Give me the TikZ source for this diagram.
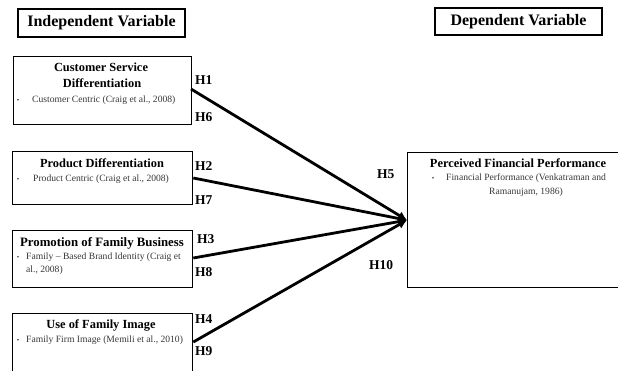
\documentclass[tikz,border=0pt]{standalone}
\usepackage{fontspec}
\setmainfont{Liberation Serif}
\usetikzlibrary{arrows.meta}
\begin{document}
\begin{tikzpicture}[x=1pt,y=-1pt,
  box/.style={draw,line width=1.3pt,inner sep=0pt},
  head/.style={box,font=\fontsize{16}{18}\selectfont\bfseries},
  ttl/.style={inner sep=0pt,anchor=base,font=\fontsize{12.4}{13}\selectfont\bfseries},
  bul/.style={inner sep=0pt,anchor=base west,text=black!78,font=\fontsize{9.6}{11}\selectfont},
  dot/.style={inner sep=0pt,anchor=base,text=black!78,font=\fontsize{7}{8}\selectfont},
  hyp/.style={inner sep=0pt,anchor=base west,font=\fontsize{13.5}{14}\selectfont\bfseries},
  conn/.style={line width=2.8pt,-{Latex[length=9pt,width=9pt]}}]
\clip (0,0) rectangle (618,370);
\fill[white] (0,0) rectangle (618,370);
% headings
\node[head,minimum width=167,minimum height=28] (iv) at (101.5,23) {Independent Variable};
\node[head,minimum width=167,minimum height=27] (dv) at (518.5,21.5) {Dependent Variable};
% boxes
\node[box,anchor=north west,minimum width=178,minimum height=68] (cs) at (13,56) {};
\node[box,anchor=north west,minimum width=180,minimum height=53] (pd) at (12,151) {};
\node[box,anchor=north west,minimum width=180,minimum height=57] (pr) at (12,230) {};
\node[box,anchor=north west,minimum width=180,minimum height=70] (uf) at (12,313) {};
\node[box,anchor=north west,minimum width=220,minimum height=135] (pf) at (407,152) {};
% customer service
\node[ttl] (cs1) at (101,71) {Customer Service};
\node[ttl] (cs2) at (102,87) {Differentiation};
\node[dot] (csb) at (18,102) {•};
\node[bul] (cst) at (32,102) {Customer Centric (Craig et al., 2008)};
% product
\node[ttl] (pd1) at (102,167) {Product Differentiation};
\node[dot] (pdb) at (18,181) {•};
\node[bul] (pdt) at (33,181) {Product Centric (Craig et al., 2008)};
% promotion
\node[ttl,font=\fontsize{12.8}{14}\selectfont\bfseries] (pr1) at (102,246) {Promotion of Family Business};
\node[dot] (prb) at (18,259) {•};
\node[bul] (prt) at (26,259) {Family – Based Brand Identity (Craig et};
\node[bul] (prt2) at (26,272) {al., 2008)};
% use of family image
\node[ttl] (uf1) at (101,328) {Use of Family Image};
\node[dot] (ufb) at (18,342) {•};
\node[bul] (uft) at (26,342) {Family Firm Image (Memili et al., 2010)};
% perceived
\node[ttl] (pf1) at (518,167) {Perceived Financial Performance};
\node[dot] (pfb) at (433,180) {•};
\node[bul] (pft) at (446,180) {Financial Performance (Venkatraman and};
\node[inner sep=0pt,anchor=base,text=black!78,font=\fontsize{9.6}{11}\selectfont] (pft2) at (526,194) {Ramanujam, 1986)};
% hypotheses
\node[hyp] (h1) at (195,84) {H1};
\node[hyp] (h6) at (195,121) {H6};
\node[hyp] (h2) at (195,170) {H2};
\node[hyp] (h7) at (195,204) {H7};
\node[hyp] (h3) at (197,243) {H3};
\node[hyp] (h8) at (195,276) {H8};
\node[hyp] (h4) at (195,323) {H4};
\node[hyp] (h9) at (195,355) {H9};
\node[hyp] (h5) at (377,178) {H5};
\node[hyp] (h10) at (369,269) {H10};
% connectors
\coordinate (tgt) at (pf.west);
\draw[conn] (191,89) -- (tgt);
\draw[conn] (pd.east |- 0,178) -- (tgt);
\draw[conn] (pr.east |- 0,258) -- (tgt);
\draw[conn] (uf.east |- 0,342) -- (tgt);
\end{tikzpicture}
\end{document}
